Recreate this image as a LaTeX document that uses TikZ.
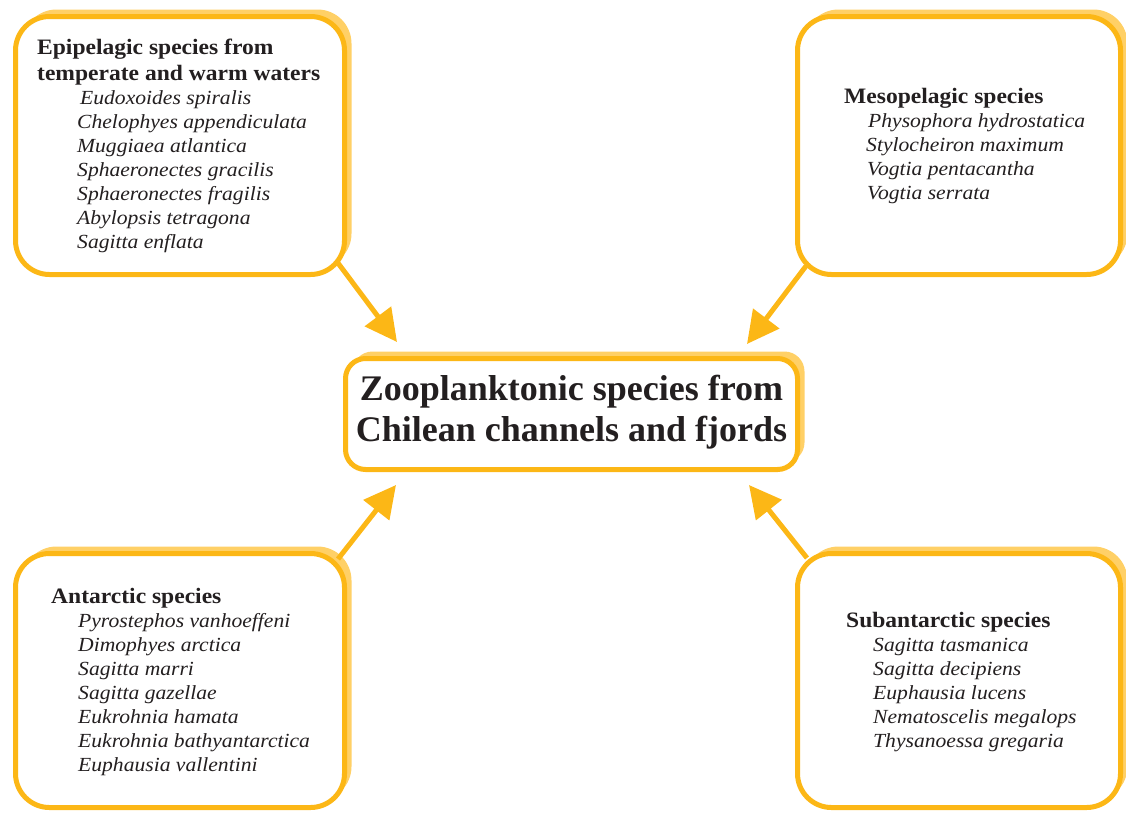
\documentclass[tikz,border=0pt]{standalone}
\usepackage{fontspec}
\setmainfont{Liberation Serif}
\newfontfamily\spfont{Liberation Serif}[FakeStretch=1.08]
\newfontfamily\hdfont{Liberation Serif}[FakeStretch=1.07]
\usetikzlibrary{arrows.meta,shadows}
\definecolor{bordc}{RGB}{252,183,22}
\definecolor{shadc}{RGB}{255,208,102}
\definecolor{txtc}{RGB}{35,31,32}
\tikzset{
  box/.style={draw=bordc, line width=5pt, fill=white, rounded corners=#1,
    general shadow={fill=shadc, shadow xshift=7pt, shadow yshift=7pt}},
  box/.default=34pt,
  hd/.style={anchor=base west, inner sep=0pt, font=\hdfont\fontsize{22}{24}\selectfont\bfseries, text=txtc},
  sp/.style={anchor=base west, inner sep=0pt, font=\spfont\fontsize{20}{24}\selectfont\itshape, text=txtc},
  ttl/.style={anchor=base, inner sep=0pt, font=\fontsize{36}{42}\selectfont\bfseries, text=txtc},
  arr/.style={draw=bordc, line width=5pt, -{Triangle[length=32pt,width=32pt]}}
}
\begin{document}
\begin{tikzpicture}[x=1pt,y=-1pt]
\useasboundingbox (0,0) rectangle (1126,812);
% boxes
\node[box, minimum width=329pt, minimum height=258pt] (tl) at (180,145.5) {};
\node[box, minimum width=323pt, minimum height=258pt] (tr) at (959,145.5) {};
\node[box, minimum width=329pt, minimum height=254pt] (bl) at (180,680.5) {};
\node[box, minimum width=323pt, minimum height=254pt] (br) at (959,680.5) {};
\node[box=20pt, minimum width=452pt, minimum height=111pt] (c) at (571.5,414) {};
% title
\node[ttl] (c1) at (571.5,400) {Zooplanktonic species from};
\node[ttl] (c2) at (571.5,441) {Chilean channels and fjords};
% top left
\node[hd] (tlh1) at (37,54) {Epipelagic species from};
\node[hd] (tlh2) at (37,80) {temperate and warm waters};
\node[sp] (tl1) at (80,104) {Eudoxoides spiralis};
\node[sp] (tl2) at (77,128) {Chelophyes appendiculata};
\node[sp] (tl3) at (77,152) {Muggiaea atlantica};
\node[sp] (tl4) at (77,176) {Sphaeronectes gracilis};
\node[sp] (tl5) at (77,200) {Sphaeronectes fragilis};
\node[sp] (tl6) at (77,224) {Abylopsis tetragona};
\node[sp] (tl7) at (77,248) {Sagitta enflata};
% top right
\node[hd] (trh) at (844,103) {Mesopelagic species};
\node[sp] (tr1) at (868,127) {Physophora hydrostatica};
\node[sp] (tr2) at (866,151) {Stylocheiron maximum};
\node[sp] (tr3) at (867,175) {Vogtia pentacantha};
\node[sp] (tr4) at (867,199) {Vogtia serrata};
% bottom left
\node[hd] (blh) at (51,603) {Antarctic species};
\node[sp] (bl1) at (78,627) {Pyrostephos vanhoeffeni};
\node[sp] (bl2) at (78,651) {Dimophyes arctica};
\node[sp] (bl3) at (78,675) {Sagitta marri};
\node[sp] (bl4) at (78,699) {Sagitta gazellae};
\node[sp] (bl5) at (78,723) {Eukrohnia hamata};
\node[sp] (bl6) at (78,747) {Eukrohnia bathyantarctica};
\node[sp] (bl7) at (78,771) {Euphausia vallentini};
% bottom right
\node[hd] (brh) at (846,627) {Subantarctic species};
\node[sp] (br1) at (873,651) {Sagitta tasmanica};
\node[sp] (br2) at (873,675) {Sagitta decipiens};
\node[sp] (br3) at (873,699) {Euphausia lucens};
\node[sp] (br4) at (873,723) {Nematoscelis megalops};
\node[sp] (br5) at (873,747) {Thysanoessa gregaria};
% arrow end points
\coordinate (tls) at (338,263);
\coordinate (tlt) at (397,342);
\coordinate (trs) at (806,266);
\coordinate (trt) at (747,344);
\coordinate (bls) at (338,559);
\coordinate (blt) at (396,485);
\coordinate (brs) at (807,558);
\coordinate (brt) at (749,485);
\draw[arr] (tls) -- (tlt);
\draw[arr] (trs) -- (trt);
\draw[arr] (bls) -- (blt);
\draw[arr] (brs) -- (brt);
\end{tikzpicture}
\end{document}
